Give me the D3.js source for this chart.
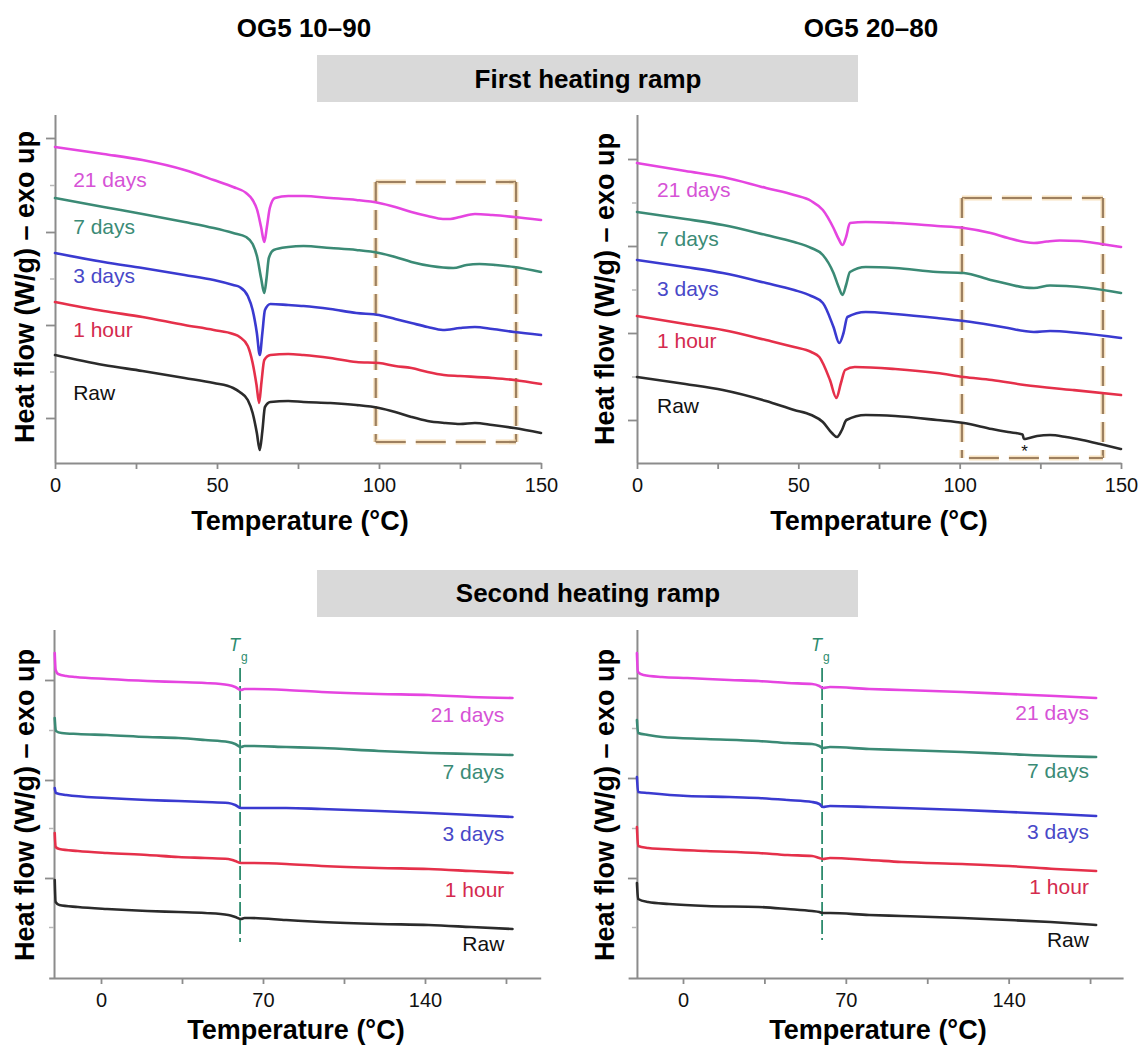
<!DOCTYPE html>
<html><head><meta charset="utf-8">
<script src="https://cdn.jsdelivr.net/npm/d3@7/dist/d3.min.js"></script>
<style>
body{margin:0;background:#fff;}
svg{display:block;font-family:"Liberation Sans",Arial,Helvetica,sans-serif;}
</style></head><body>
<svg id="chart" width="1138" height="1048"></svg>
<script>
// ---------- categories ----------
const seriesNames = ["Raw", "1 hour", "3 days", "7 days", "21 days"];
const columnTitles = ["OG5 10\u201390", "OG5 20\u201380"];
const rampTitles = ["First heating ramp", "Second heating ramp"];

// ---------- tick labels ----------
const topXTicks = [0, 50, 100, 150];
const topXMinor = [25, 75, 125];
const botXTicks = [0, 70, 140];
const botXMinor = [35, 105, 175];
const tlYTicks = [0.45, 1.38, 2.31, 3.25];
const tlYMinor = [0.915, 1.845, 2.78];
const trYTicks = [0.43, 1.30, 2.17, 3.04];
const trYMinor = [0.865, 1.735, 2.605];
const blYTicks = [1.00, 1.98, 2.98];
const blYMinor = [0.51, 1.50, 2.48];
const brYTicks = [1.00, 2.00, 3.00];
const brYMinor = [0.51, 1.50, 2.50];

// ---------- series values: [temperature °C, heat flow (a.u., exo up)] ----------
// First heating ramp, OG5 10-90
const tl_raw = [[0,1.08],[15,0.98],[27,0.92],[40,0.85],[49,0.80],[55,0.75],[57,0.71],[59.5,0.63],[61,0.50],[62.3,0.30],[63.2,0.13],[64,0.32],[64.8,0.56],[66.5,0.61],[72,0.62],[76.7,0.61],[85,0.60],[93,0.58],[100,0.55],[105,0.51],[110,0.46],[115,0.42],[120.5,0.40],[125,0.39],[129.6,0.40],[135,0.38],[141.7,0.35],[150,0.30]];
const tl_1h = [[0,1.61],[15,1.52],[27,1.46],[40,1.38],[49,1.33],[55,1.29],[57,1.26],[59.5,1.17],[61,1.00],[62.2,0.78],[63.0,0.60],[63.7,0.80],[64.6,1.03],[66.5,1.08],[72,1.09],[76.7,1.08],[85,1.05],[93,1.01],[100,1.00],[105,0.97],[110,0.95],[115,0.91],[120,0.88],[125,0.87],[135,0.85],[141.7,0.83],[150,0.79]];
const tl_3d = [[0,2.10],[15,2.01],[27,1.95],[40,1.88],[49,1.83],[55,1.78],[57,1.76],[59.5,1.67],[61,1.53],[62.3,1.30],[63.2,1.08],[64,1.30],[64.8,1.53],[66.5,1.59],[72,1.58],[76.7,1.57],[85,1.54],[93,1.50],[100,1.48],[105,1.44],[110,1.40],[115,1.36],[119.7,1.33],[125,1.35],[129.6,1.36],[135,1.34],[141.7,1.31],[150,1.28]];
const tl_7d = [[0,2.65],[15,2.56],[27,2.49],[40,2.41],[49,2.35],[55,2.30],[59,2.26],[61,2.19],[62.4,2.06],[63.6,1.85],[64.6,1.70],[65.3,1.85],[66,2.05],[67.5,2.13],[72,2.16],[76.7,2.17],[85,2.15],[93,2.13],[100,2.10],[105,2.06],[110,2.01],[116,1.97],[122.9,1.95],[127,1.98],[131,1.99],[136,1.98],[141.7,1.96],[150,1.91]];
const tl_21d = [[0,3.16],[15,3.09],[27,3.03],[40,2.93],[49,2.83],[55,2.76],[59,2.70],[61,2.63],[62.4,2.53],[63.6,2.36],[64.6,2.21],[65.4,2.36],[66.3,2.55],[67.9,2.65],[72,2.67],[76.7,2.67],[85,2.65],[93,2.63],[100,2.60],[105,2.56],[110,2.51],[115,2.47],[119.7,2.44],[122,2.44],[125,2.46],[129.6,2.49],[135,2.48],[141.7,2.46],[150,2.43]];

// First heating ramp, OG5 20-80
const tr_raw = [[0,0.86],[15,0.79],[26.6,0.73],[40,0.62],[48.7,0.53],[54,0.48],[57.6,0.41],[60.4,0.30],[62.0,0.26],[63.5,0.33],[64.9,0.43],[70.9,0.48],[80,0.47],[93,0.43],[101.3,0.40],[110,0.34],[115,0.31],[119.5,0.285],[119.9,0.24],[121,0.245],[124,0.27],[128,0.28],[133,0.26],[138,0.23],[143.5,0.19],[150,0.14]];
const tr_1h = [[0,1.47],[15,1.39],[26.6,1.33],[40,1.23],[48.7,1.16],[54,1.11],[56.5,1.06],[59.8,0.83],[61.8,0.65],[63.2,0.80],[64.5,0.93],[67.5,0.96],[80,0.94],[93,0.90],[101.3,0.86],[110,0.83],[120.1,0.78],[135,0.73],[150,0.68]];
const tr_3d = [[0,2.03],[15,1.96],[26.6,1.90],[40,1.80],[48.7,1.73],[54,1.67],[57.6,1.60],[60.9,1.36],[62.7,1.20],[64,1.30],[65.2,1.46],[70.9,1.51],[80,1.49],[93,1.45],[101.3,1.42],[109.6,1.38],[115,1.35],[120,1.32],[123,1.31],[128,1.32],[137,1.30],[150,1.25]];
const tr_7d = [[0,2.51],[15,2.44],[26.6,2.38],[40,2.28],[48.7,2.21],[54,2.15],[57.6,2.08],[60.9,1.90],[62.5,1.76],[63.7,1.68],[64.8,1.78],[66,1.91],[70.9,1.96],[80,1.95],[93,1.91],[101.3,1.90],[109.6,1.83],[115,1.79],[120.1,1.755],[123,1.75],[128,1.775],[133,1.77],[140,1.75],[150,1.70]];
const tr_21d = [[0,3.00],[15,2.92],[26.6,2.86],[40,2.75],[48.7,2.68],[54,2.62],[57.6,2.53],[60.9,2.35],[62.5,2.24],[63.7,2.18],[64.8,2.26],[66,2.40],[70.9,2.41],[80,2.40],[93,2.37],[101.3,2.35],[109.6,2.30],[115,2.25],[120.1,2.21],[123,2.20],[127,2.215],[131,2.225],[137,2.22],[143.9,2.19],[150,2.16]];

// Second heating ramp, OG5 10-90
const bl_raw = [[-20,0.98],[-19.6,0.76],[-18,0.73],[-10,0.71],[2.6,0.69],[20,0.67],[33.5,0.66],[45,0.65],[55,0.63],[58,0.61],[60.5,0.59],[62,0.60],[64.4,0.60],[80,0.58],[95.3,0.56],[120,0.54],[141.6,0.53],[160,0.51],[177.8,0.49]];
const bl_1h = [[-20,1.45],[-19.6,1.31],[-18,1.29],[-10,1.27],[2.6,1.25],[20,1.23],[33.5,1.21],[45,1.20],[55,1.19],[58,1.17],[60.5,1.15],[62,1.15],[64.4,1.15],[80,1.14],[95.3,1.12],[120,1.10],[141.6,1.09],[160,1.07],[177.8,1.05]];
const bl_3d = [[-20,1.90],[-19.5,1.85],[-15,1.83],[2.6,1.80],[20,1.78],[33.5,1.77],[45,1.76],[55,1.75],[58,1.73],[60.5,1.70],[62,1.70],[64.4,1.70],[80,1.70],[95.3,1.69],[120,1.67],[141.6,1.65],[160,1.63],[177.8,1.61]];
const bl_7d = [[-20,2.60],[-19.5,2.47],[-17,2.45],[-10,2.44],[2.6,2.43],[20,2.41],[33.5,2.40],[45,2.38],[55,2.36],[58,2.34],[60.5,2.31],[62,2.32],[64.4,2.32],[80,2.31],[95.3,2.30],[120,2.27],[141.6,2.25],[160,2.24],[177.8,2.23]];
const bl_21d = [[-20,3.25],[-19.6,3.08],[-18.5,3.04],[-15,3.02],[-11,3.01],[2.6,2.99],[20,2.97],[33.5,2.96],[45,2.95],[55,2.93],[58,2.91],[60.5,2.88],[62,2.89],[64.4,2.89],[80,2.88],[95.3,2.86],[120,2.84],[141.6,2.83],[160,2.81],[177.8,2.80]];

// Second heating ramp, OG5 20-80
const br_raw = [[-19.8,0.95],[-19.3,0.79],[-15,0.76],[-6,0.74],[10,0.72],[32.5,0.71],[45,0.69],[55.5,0.67],[58.6,0.66],[60.1,0.65],[63.2,0.65],[80,0.63],[93.9,0.62],[120,0.60],[140,0.58],[158,0.56],[177.6,0.53]];
const br_1h = [[-19.8,1.51],[-19.3,1.32],[-15,1.30],[-9,1.29],[10,1.27],[32.5,1.25],[45,1.23],[55.5,1.22],[58.6,1.20],[60.1,1.19],[63.2,1.20],[80,1.18],[93.9,1.16],[120,1.14],[140,1.12],[160,1.09],[177.6,1.07]];
const br_3d = [[-19.8,2.01],[-19.3,1.86],[-15,1.85],[1.8,1.82],[20,1.81],[32.5,1.80],[45,1.78],[55.5,1.76],[58.6,1.74],[60.1,1.71],[63.2,1.72],[80,1.71],[93.9,1.70],[120,1.68],[140,1.66],[160,1.64],[177.6,1.62]];
const br_7d = [[-19.8,2.58],[-19.3,2.45],[-15,2.43],[-9,2.41],[10,2.39],[32.5,2.37],[45,2.35],[55.5,2.34],[58.6,2.32],[60.1,2.30],[63.2,2.31],[80,2.29],[93.9,2.28],[120,2.26],[140,2.24],[160,2.22],[177.6,2.21]];
const br_21d = [[-19.8,3.25],[-19.4,3.06],[-17,3.03],[-9,3.01],[1.8,3.00],[20,2.98],[32.5,2.97],[45,2.95],[55.5,2.94],[58.6,2.92],[60.1,2.90],[63.2,2.91],[80,2.89],[93.9,2.88],[120,2.86],[140,2.84],[160,2.82],[177.6,2.80]];

// Tg values (°C) and highlighted region [T1, T2]
const tgValues = [60.1, 59.8];
const boxRanges = [[99, 142.3], [100.7, 144.4]];
const asteriskT = 120.1;

// ---------- styles ----------
const lineColors = {"Raw":"#2b2b2b","1 hour":"#e5304a","3 days":"#3a3ad0","7 days":"#3b8a75","21 days":"#e545e0"};
const labelColors = {"Raw":"#111111","1 hour":"#d42a4e","3 days":"#4848c8","7 days":"#3b8b76","21 days":"#d653d6"};
const axisColor = "#8c8c8c";
const FONT_LABEL = 21, FONT_TICK = 20, FONT_TITLE = 26, FONT_AXIS = 27;

const svg = d3.select("#chart");

function drawPanel(p) {
  const x = d3.scaleLinear().domain(p.xDomain).range(p.xRange);
  const y = d3.scaleLinear().domain([0, 3.48]).range([p.yBottom, p.yBottom - 348]);
  const g = svg.append("g");

  // highlight box (behind curves)
  if (p.box) {
    const [t1, t2] = p.box;
    const bx1 = x(t1), bx2 = x(t2), by1 = y(p.boxV[1]), by2 = y(p.boxV[0]);
    const segs = [
      {x1:bx1,y1:by1,x2:bx2,y2:by1,d:"30,10"},
      {x1:bx1,y1:by1,x2:bx1,y2:by2,d:"20,8"},
      {x1:bx2,y1:by1,x2:bx2,y2:by2,d:"20,8"},
      {x1:bx1 + (p.boxBottomGap||0),y1:by2,x2:bx2,y2:by2,d:"30,10"}
    ];
    segs.forEach(s => {
      g.append("line").attr("x1",s.x1).attr("y1",s.y1).attr("x2",s.x2).attr("y2",s.y2)
        .attr("stroke","#f5d6a6").attr("stroke-width",5).attr("stroke-dasharray",s.d).attr("opacity",0.7);
      g.append("line").attr("x1",s.x1).attr("y1",s.y1).attr("x2",s.x2).attr("y2",s.y2)
        .attr("stroke","#9d8060").attr("stroke-width",2.2).attr("stroke-dasharray",s.d);
    });
  }

  // Tg line
  if (p.tg !== undefined) {
    const tx = x(p.tg);
    g.append("line").attr("x1",tx).attr("x2",tx).attr("y1",y(3.10)).attr("y2",y(p.tgBottom))
      .attr("stroke","#2e8b6e").attr("stroke-width",1.8).attr("stroke-dasharray","14,4");
    const t = g.append("text").attr("x",tx - 11).attr("y",y(3.10) - 17)
      .attr("fill","#2e8b6e").attr("font-size",18);
    t.append("tspan").attr("font-style","italic").text("T");
    t.append("tspan").attr("font-size",12).attr("dy",10).attr("dx",1).text("g");
  }

  // axes
  const xAxis = d3.axisBottom(x).tickValues(p.xTicks.concat(p.xMinor)).tickSize(6).tickSizeOuter(0).tickPadding(9)
    .tickFormat(d => p.xTicks.includes(d) ? d : "");
  const gx = g.append("g").attr("transform", `translate(0,${p.yBottom})`).call(xAxis);
  const yAxis = d3.axisLeft(y).tickValues(p.yTicks).tickSize(9).tickSizeOuter(0).tickFormat("");
  const gy = g.append("g").attr("transform", `translate(${x(p.yAxisT)},0)`).call(yAxis);
  const yAxisMinor = d3.axisLeft(y).tickValues(p.yMinor).tickSize(5).tickSizeOuter(0).tickFormat("");
  const gym = g.append("g").attr("transform", `translate(${x(p.yAxisT)},0)`).call(yAxisMinor);
  gym.select(".domain").remove();
  gym.selectAll("line").attr("stroke","#b8b8b8").attr("stroke-width",1.5);
  [gx, gy].forEach(a => {
    a.select(".domain").attr("stroke", axisColor).attr("stroke-width", 2);
    a.selectAll(".tick line").attr("stroke", axisColor).attr("stroke-width", 1.8);
  });
  gy.select(".domain").attr("d", `M0.5,${p.yBottom}V${p.yBottom - 348}`);
  gx.selectAll("text").attr("font-size", FONT_TICK).attr("fill","#111")
    .attr("font-family",'"Liberation Sans",Arial,sans-serif');

  // curves
  const line = d3.line().x(d => x(d[0])).y(d => y(d[1])).curve(d3.curveMonotoneX);
  seriesNames.forEach((name, i) => {
    g.append("path").datum(p.series[i]).attr("d", line)
      .attr("fill","none").attr("stroke", lineColors[name]).attr("stroke-width", 2.6)
      .attr("stroke-linejoin","round").attr("stroke-linecap","round");
  });

  // series labels
  seriesNames.forEach((name, i) => {
    g.append("text").attr("x", x(p.labelT)).attr("y", y(p.labelV[i]))
      .attr("text-anchor", p.labelAnchor).attr("font-size", FONT_LABEL)
      .attr("fill", labelColors[name]).text(name);
  });

  if (p.asterisk) {
    g.append("text").attr("x", x(asteriskT)).attr("y", y(0.06)).attr("text-anchor","middle")
      .attr("font-size",17).attr("fill","#111").text("*");
  }

  // axis titles
  g.append("text").attr("x", p.xTitleX).attr("y", p.xTitleY).attr("text-anchor","middle")
    .attr("font-size", FONT_AXIS).attr("font-weight","bold").attr("fill","#000").text("Temperature (\u00b0C)");
  g.append("text").attr("transform", `translate(${p.yTitleX},${p.yTitleY}) rotate(-90)`)
    .attr("text-anchor","middle").attr("font-size", FONT_AXIS).attr("font-weight","bold").attr("fill","#000")
    .text("Heat flow (W/g) \u2013 exo up");
}

// column titles
svg.append("text").attr("x",304).attr("y",37).attr("text-anchor","middle").attr("font-size",FONT_TITLE)
  .attr("font-weight","bold").text(columnTitles[0]);
svg.append("text").attr("x",871).attr("y",37).attr("text-anchor","middle").attr("font-size",FONT_TITLE)
  .attr("font-weight","bold").text(columnTitles[1]);
// ramp banners
[[55, 88], [570, 602]].forEach((b, i) => {
  svg.append("rect").attr("x",317).attr("y",b[0]).attr("width",541).attr("height",47).attr("fill","#d9d9d9");
  svg.append("text").attr("x",588).attr("y",b[1]).attr("text-anchor","middle").attr("font-size",FONT_TITLE)
    .attr("font-weight","bold").text(rampTitles[i]);
});

drawPanel({
  xDomain:[0,150], xRange:[55,541], yBottom:463, yAxisT:0,
  xTicks: topXTicks, xMinor: topXMinor, yTicks: tlYTicks, yMinor: tlYMinor,
  series:[tl_raw, tl_1h, tl_3d, tl_7d, tl_21d],
  labelT:5.6, labelV:[0.63,1.26,1.80,2.29,2.76], labelAnchor:"start",
  box: boxRanges[0], boxV:[0.21, 2.81],
  xTitleX:300, xTitleY:530, yTitleX:34, yTitleY:287
});
drawPanel({
  xDomain:[0,150], xRange:[637,1121], yBottom:463, yAxisT:0,
  xTicks: topXTicks, xMinor: topXMinor, yTicks: trYTicks, yMinor: trYMinor,
  series:[tr_raw, tr_1h, tr_3d, tr_7d, tr_21d],
  labelT:6.2, labelV:[0.50,1.15,1.67,2.17,2.66], labelAnchor:"start",
  box: boxRanges[1], boxV:[0.05, 2.65], boxBottomGap:7, asterisk:true,
  xTitleX:879, xTitleY:530, yTitleX:614, yTitleY:289
});
drawPanel({
  xDomain:[-22.6,190], xRange:[48.7,540.7], yBottom:978, yAxisT:-20.3,
  xTicks: botXTicks, xMinor: botXMinor, yTicks: blYTicks, yMinor: blYMinor,
  series:[bl_raw, bl_1h, bl_3d, bl_7d, bl_21d],
  labelT:174.3, labelV:[0.27,0.81,1.37,1.99,2.56], labelAnchor:"end",
  tg: tgValues[0], tgBottom:0.36,
  xTitleX:296, xTitleY:1039, yTitleX:34, yTitleY:805
});
drawPanel({
  xDomain:[-23.6,189.2], xRange:[628.1,1123.1], yBottom:978, yAxisT:-19.8,
  xTicks: botXTicks, xMinor: botXMinor, yTicks: brYTicks, yMinor: brYMinor,
  series:[br_raw, br_1h, br_3d, br_7d, br_21d],
  labelT:174.5, labelV:[0.31,0.84,1.39,2.00,2.58], labelAnchor:"end",
  tg: tgValues[1], tgBottom:0.38,
  xTitleX:878, xTitleY:1039, yTitleX:614, yTitleY:805
});
</script>
</body></html>
